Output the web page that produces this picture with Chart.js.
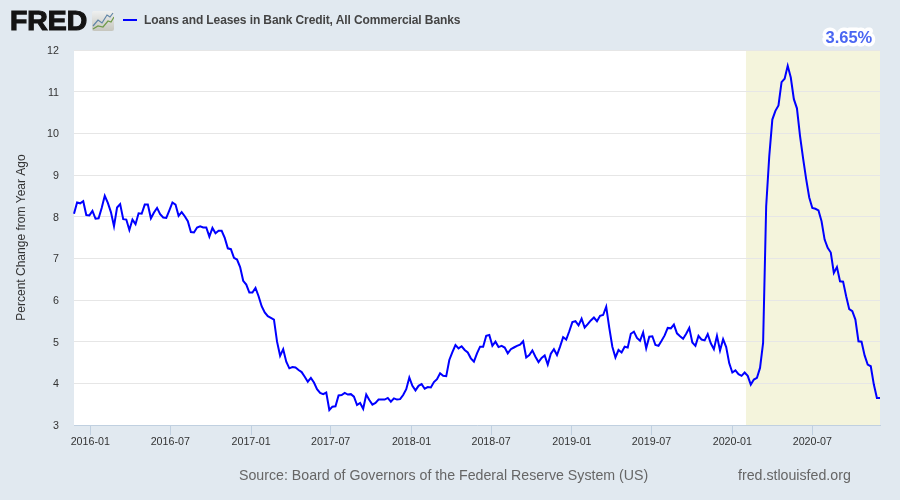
<!DOCTYPE html>
<html>
<head>
<meta charset="utf-8">
<title>Loans and Leases in Bank Credit</title>
<script src="https://cdn.jsdelivr.net/npm/chart.js@4"></script>
<style>
  html, body { margin: 0; padding: 0; background: #e1e9f0; }
  #wrap { position: relative; width: 900px; height: 500px; overflow: hidden; font-family: "Liberation Sans", Arial, sans-serif; }
  #myChart { position: absolute; left: 0; top: 0; }
  .txt { position: absolute; white-space: nowrap; }
  #logo { left: 10px; top: 5px; font-size: 27.5px; line-height: 32px; font-weight: bold; color: #141414; -webkit-text-stroke: 1.2px #141414; transform-origin: left top; transform: scaleX(1.03); }
  #icon { position: absolute; left: 92px; top: 11px; }
  #legendLine { position: absolute; left: 123px; top: 19px; width: 14px; height: 2px; background: #0000ff; }
  #legendText { left: 144px; top: 12px; font-size: 12px; line-height: 16px; font-weight: bold; letter-spacing: -0.1px; color: #444; }
  #source { left: 239px; top: 466px; font-size: 14.2px; line-height: 18px; color: #666; }
  #site { left: 738px; top: 466px; font-size: 14.2px; line-height: 18px; color: #666; }
</style>
</head>
<body>
<div id="wrap">
  <canvas id="myChart" width="900" height="500"></canvas>
  <div class="txt" id="logo">FRED</div>
  <svg id="icon" width="22" height="20" viewBox="0 0 22 20">
    <defs>
      <linearGradient id="iconBg" x1="0" y1="0" x2="0" y2="1">
        <stop offset="0" stop-color="#eef0f0"/>
        <stop offset="1" stop-color="#c6c6be"/>
      </linearGradient>
    </defs>
    <rect x="0" y="0" width="22" height="20" rx="2" fill="url(#iconBg)"/>
    <polyline points="1,15 6,9 10,12 15,4 18,6 21,2" fill="none" stroke="#5f84a6" stroke-width="1.2"/>
    <polyline points="1,18 6,15 11,16 16,10 19,11 22,6" fill="none" stroke="#6f9a4a" stroke-width="1.2"/>
  </svg>
  <div id="legendLine"></div>
  <div class="txt" id="legendText">Loans and Leases in Bank Credit, All Commercial Banks</div>
  <div class="txt" id="source">Source: Board of Governors of the Federal Reserve System (US)</div>
  <div class="txt" id="site">fred.stlouisfed.org</div>
</div>

<script>
const startDate = '2015-11-25';
const endDate = '2020-12-02';
const recessionStart = '2020-02-01';

const tickLabels = ['2016-01', '2016-07', '2017-01', '2017-07', '2018-01', '2018-07', '2019-01', '2019-07', '2020-01', '2020-07'];
const yTicks = [3, 4, 5, 6, 7, 8, 9, 10, 11, 12];

const values = [
  8.07, 8.34, 8.32, 8.37, 8.04, 8.03, 8.14, 7.95, 7.96, 8.21,
  8.50, 8.33, 8.11, 7.77, 8.22, 8.30, 7.94, 7.93, 7.68, 7.93,
  7.82, 8.08, 8.07, 8.29, 8.29, 7.96, 8.10, 8.21, 8.06, 7.98,
  7.97, 8.15, 8.34, 8.29, 8.02, 8.11, 8.01, 7.89, 7.63, 7.62,
  7.74, 7.77, 7.74, 7.74, 7.52, 7.73, 7.60, 7.66, 7.66, 7.49,
  7.24, 7.22, 7.01, 6.97, 6.79, 6.46, 6.37, 6.18, 6.18, 6.29,
  6.09, 5.85, 5.70, 5.61, 5.57, 5.53, 5.00, 4.66, 4.82, 4.52,
  4.36, 4.39, 4.38, 4.32, 4.27, 4.16, 4.04, 4.13, 4.02, 3.86,
  3.77, 3.74, 3.78, 3.36, 3.44, 3.45, 3.71, 3.72, 3.77, 3.73,
  3.74, 3.68, 3.48, 3.53, 3.39, 3.73, 3.60, 3.49, 3.53, 3.61,
  3.61, 3.61, 3.65, 3.56, 3.64, 3.61, 3.62, 3.72, 3.86, 4.14,
  3.94, 3.83, 3.94, 3.98, 3.87, 3.91, 3.90, 4.03, 4.10, 4.24,
  4.18, 4.17, 4.56, 4.75, 4.92, 4.84, 4.89, 4.80, 4.74, 4.60,
  4.52, 4.72, 4.88, 4.88, 5.14, 5.16, 4.90, 5.00, 4.87, 4.90,
  4.86, 4.72, 4.82, 4.86, 4.90, 4.93, 5.01, 4.62, 4.68, 4.79,
  4.64, 4.51, 4.61, 4.67, 4.45, 4.71, 4.82, 4.68, 4.88, 5.11,
  5.05, 5.25, 5.47, 5.49, 5.39, 5.55, 5.34, 5.42, 5.51, 5.58,
  5.49, 5.62, 5.64, 5.84, 5.33, 4.88, 4.62, 4.80, 4.74, 4.88,
  4.86, 5.19, 5.24, 5.09, 5.02, 5.22, 4.84, 5.12, 5.13, 4.92,
  4.90, 5.02, 5.15, 5.33, 5.32, 5.41, 5.20, 5.13, 5.07, 5.19,
  5.33, 4.98, 4.90, 5.14, 5.05, 5.03, 5.18, 4.96, 4.82, 5.14,
  4.79, 5.06, 4.87, 4.48, 4.26, 4.31, 4.22, 4.18, 4.26, 4.18,
  3.97, 4.09, 4.13, 4.37, 4.97, 8.25, 9.45, 10.33, 10.54, 10.67,
  11.23, 11.31, 11.62, 11.34, 10.82, 10.60, 9.94, 9.40, 8.90, 8.46,
  8.21, 8.19, 8.15, 7.89, 7.45, 7.25, 7.14, 6.65, 6.79, 6.45,
  6.44, 6.09, 5.78, 5.73, 5.53, 5.01, 5.00, 4.67, 4.45, 4.41,
  3.97, 3.65, 3.65
];

const DAY = 86400000;
const startMs = Date.parse(startDate);
const points = values.map((v, i) => ({ x: startMs + i * 7 * DAY, y: v }));
const xTicks = tickLabels.map(t => Date.parse(t + '-01'));

// shaded recession band, sits under the grid lines
const recessionBand = {
  id: 'recessionBand',
  beforeDraw(chart) {
    const { ctx, chartArea, scales } = chart;
    ctx.save();
    ctx.fillStyle = '#ffffff';
    ctx.fillRect(chartArea.left, chartArea.top, chartArea.width, chartArea.height);
    const x0 = scales.x.getPixelForValue(Date.parse(recessionStart));
    const x1 = scales.x.getPixelForValue(Date.parse(endDate));
    ctx.fillStyle = '#f4f4dc';
    ctx.fillRect(x0, chartArea.top, x1 - x0, chartArea.height);
    ctx.restore();
  }
};

// value badge top right
const lastValueBadge = {
  id: 'lastValueBadge',
  afterDraw(chart) {
    const { ctx } = chart;
    const text = values[values.length - 1].toFixed(2) + '%';
    ctx.save();
    ctx.font = 'bold 16.5px "Liberation Sans", Arial, sans-serif';
    ctx.textAlign = 'left';
    ctx.textBaseline = 'alphabetic';
    ctx.lineJoin = 'round';
    ctx.lineWidth = 7;
    ctx.strokeStyle = '#ffffff';
    ctx.strokeText(text, 825.5, 42.5);
    ctx.fillStyle = '#4a66f2';
    ctx.fillText(text, 825.5, 42.5);
    ctx.restore();
  }
};

new Chart(document.getElementById('myChart'), {
  type: 'line',
  data: {
    datasets: [{
      label: 'Loans and Leases in Bank Credit, All Commercial Banks',
      data: points,
      borderColor: '#0000ff',
      borderWidth: 2,
      pointRadius: 0,
      tension: 0,
      clip: false
    }]
  },
  plugins: [recessionBand, lastValueBadge],
  options: {
    responsive: false,
    animation: false,
    layout: { padding: { left: 0, top: 50, right: 20, bottom: 0 } },
    plugins: { legend: { display: false }, tooltip: { enabled: false } },
    scales: {
      x: {
        type: 'linear',
        min: startMs,
        max: Date.parse(endDate),
        afterBuildTicks(axis) { axis.ticks = xTicks.map(v => ({ value: v })); },
        afterFit(axis) { axis.height = 75; },
        grid: { drawOnChartArea: false, tickLength: 10, tickColor: '#c0d0e0' },
        border: { color: '#c0d0e0', width: 1 },
        ticks: {
          autoSkip: false,
          maxRotation: 0,
          padding: 1,
          color: '#333333',
          font: { family: '"Liberation Sans", Arial, sans-serif', size: 10.7 },
          callback(v) { return tickLabels[xTicks.indexOf(v)]; }
        }
      },
      y: {
        min: 3,
        max: 12,
        afterBuildTicks(axis) { axis.ticks = yTicks.map(v => ({ value: v })); },
        afterFit(axis) { axis.width = 74; },
        grid: { color: '#e6e6e6', lineWidth: 1, drawTicks: false },
        border: { display: false },
        title: {
          display: true,
          text: 'Percent Change from Year Ago',
          color: '#333333',
          font: { family: '"Liberation Sans", Arial, sans-serif', size: 12 },
          padding: { top: 14, bottom: 0 }
        },
        ticks: {
          padding: 15,
          labelOffset: 1,
          color: '#333333',
          font: { family: '"Liberation Sans", Arial, sans-serif', size: 10.7 }
        }
      }
    }
  }
});
</script>
</body>
</html>
